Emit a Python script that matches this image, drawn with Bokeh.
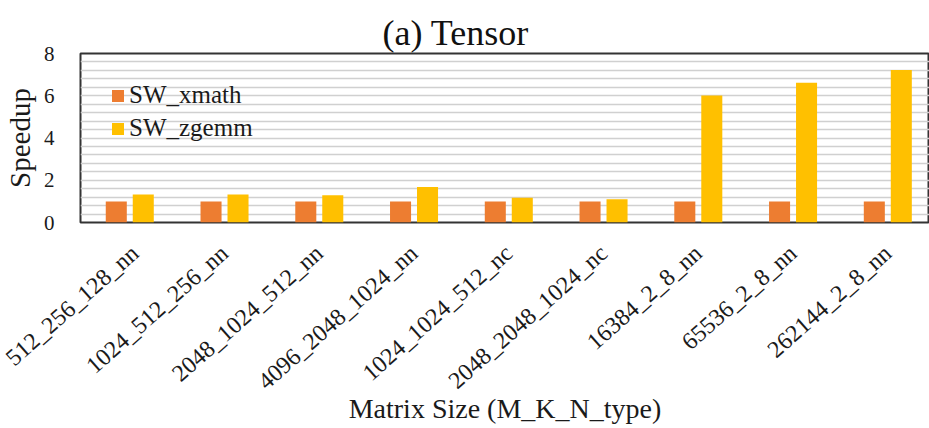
import numpy as np
from bokeh.plotting import figure
from bokeh.models import Range1d, FixedTicker, Legend, LegendItem, ColumnDataSource
from bokeh.embed import file_html
from bokeh.resources import INLINE

categories = ["512_256_128_nn", "1024_512_256_nn", "2048_1024_512_nn",
              "4096_2048_1024_nn", "1024_1024_512_nc", "2048_2048_1024_nc",
              "16384_2_8_nn", "65536_2_8_nn", "262144_2_8_nn"]
sw_xmath = [1.0, 1.0, 1.0, 1.0, 1.0, 1.0, 1.0, 1.0, 1.0]
sw_zgemm = [1.33, 1.33, 1.29, 1.68, 1.17, 1.10, 6.01, 6.62, 7.22]
y_ticks = [0, 2, 4, 6, 8]
minor_step = 0.4

FONT = "Liberation Serif"
C_XMATH = "#ED7D31"
C_ZGEMM = "#FFC000"
TXT = "#1a1a1a"

centers = np.arange(len(categories)) + 0.5
offset = 0.1424
bar_w = 0.222

src = ColumnDataSource(dict(
    x1=centers - offset, x2=centers + offset,
    xmath=sw_xmath, zgemm=sw_zgemm,
))

p = figure(width=929, height=428, output_backend="svg", toolbar_location=None,
           x_range=Range1d(-0.02, 8.94), y_range=Range1d(0, 8),
           min_border_left=80, min_border_right=0, min_border_top=53,
           min_border_bottom=206)

r1 = p.vbar(x="x1", top="xmath", width=bar_w, source=src, color=C_XMATH, line_color=None)
r2 = p.vbar(x="x2", top="zgemm", width=bar_w, source=src, color=C_ZGEMM, line_color=None)

# title
p.title.text = "(a) Tensor"
p.title.align = "left"
p.title.offset = 302
p.title.standoff = 2
p.title.text_font = FONT
p.title.text_font_size = "36px"
p.title.text_font_style = "normal"
p.title.text_color = "#111111"

# axes
p.xaxis.ticker = FixedTicker(ticks=list(centers))
p.xaxis.major_label_overrides = {float(c): lab for c, lab in zip(centers, categories)}
p.xaxis.major_label_orientation = 0.725
p.xaxis.major_label_text_font = FONT
p.xaxis.major_label_text_font_size = "24px"
p.xaxis.major_label_text_color = TXT
p.xaxis.major_label_standoff = 21
p.xaxis.axis_label = "Matrix Size (M_K_N_type)"
p.xaxis.axis_label_text_font = FONT
p.xaxis.axis_label_text_font_size = "28px"
p.xaxis.axis_label_text_font_style = "normal"
p.xaxis.axis_label_text_color = TXT
p.xaxis.axis_label_standoff = -14

p.yaxis.ticker = FixedTicker(ticks=y_ticks)
p.yaxis.major_label_text_font = FONT
p.yaxis.major_label_text_font_size = "21px"
p.yaxis.major_label_text_color = TXT
p.yaxis.major_label_standoff = 20
p.yaxis.axis_label = "Speedup"
p.yaxis.axis_label_text_font = FONT
p.yaxis.axis_label_text_font_size = "29px"
p.yaxis.axis_label_text_font_style = "normal"
p.yaxis.axis_label_text_color = TXT
p.yaxis.axis_label_standoff = 5

for ax in (p.xaxis, p.yaxis):
    ax.axis_line_color = None
    ax.major_tick_line_color = None
    ax.minor_tick_line_color = None

# grid
p.xgrid.grid_line_color = None
grid_ticks = [round(minor_step * i, 2) for i in range(1, int(round(8 / minor_step)))]
p.ygrid.ticker = FixedTicker(ticks=grid_ticks)
p.ygrid.grid_line_color = "#d0d0d0"
p.ygrid.grid_line_width = 1.6

p.outline_line_color = "#333333"
p.outline_line_width = 2
p.background_fill_color = "white"
p.border_fill_color = "white"

legend = Legend(items=[LegendItem(label="SW_xmath", renderers=[r1]),
                       LegendItem(label="SW_zgemm", renderers=[r2])],
                location=(30, 80))
legend.label_text_font = FONT
legend.label_text_font_size = "25px"
legend.label_text_color = TXT
legend.glyph_width = 15
legend.glyph_height = 15
legend.label_standoff = 4
legend.label_height = 27
legend.spacing = 5
legend.margin = 0
legend.padding = 0
legend.background_fill_alpha = 0
legend.border_line_color = None
p.add_layout(legend)

open("out.html", "w").write(file_html(p, INLINE))
